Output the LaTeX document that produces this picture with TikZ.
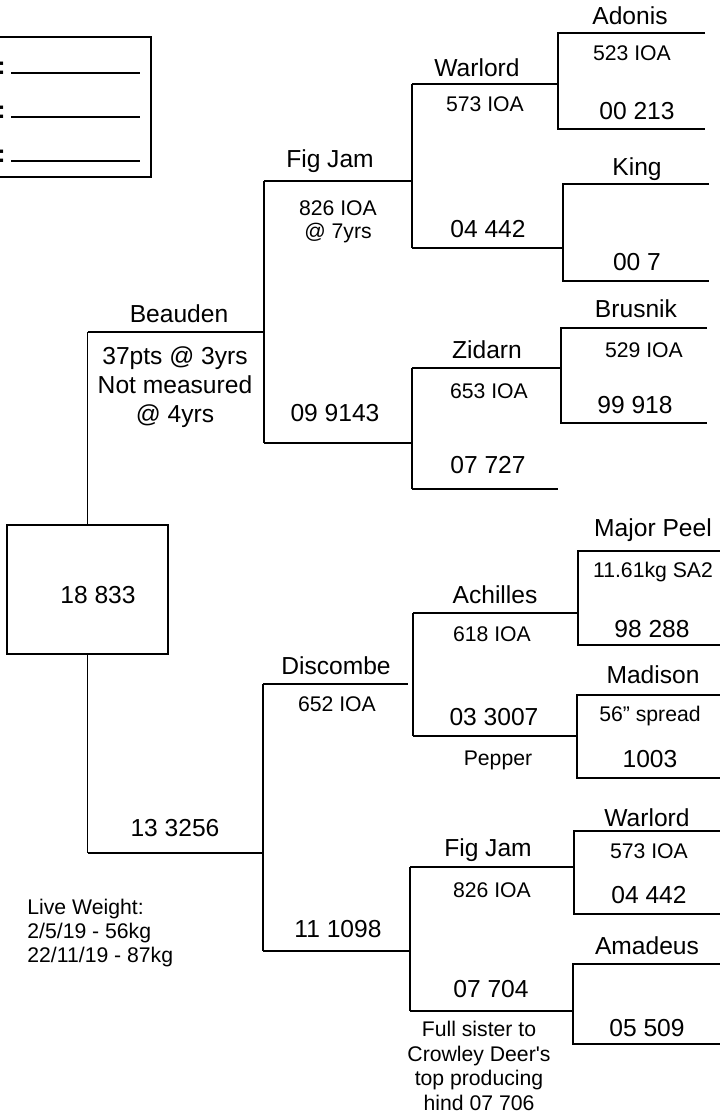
\documentclass[tikz,border=0pt]{standalone}
\usepackage{fontspec}
\setmainfont{Liberation Sans}[Ligatures=TeXOff]
\usetikzlibrary{positioning}

\begin{document}
\begin{tikzpicture}[
    x=0.5pt, y=-0.5pt,
    % Style for the bracket lines of the pedigree
    edge/.style = {line width=0.7pt},
    % Style for the heavy frames (record box and animal box)
    frame/.style = {draw, line width=1.3pt, inner sep=0pt},
    % Style for names and tag numbers (large) and notes (small)
    big/.style = {anchor=base, inner sep=0pt, font=\fontsize{12.3}{14.5}\selectfont},
    small/.style = {anchor=base, inner sep=0pt, font=\fontsize{10.6}{12.2}\selectfont}
]
    \path[fill=white, use as bounding box] (0,0) rectangle (719,1115);

    % --- RECORD BOX (top left) ---
    \node[frame, minimum width=78pt, minimum height=70pt] (form) at (73,107) {};
    \foreach \y/\k in {73/1, 117/2, 161/3} {
        \node[big, anchor=base east, font=\fontsize{12.3}{14.5}\selectfont\bfseries] (colon\k) at (6,\y+1) {:};
        \coordinate (fa\k) at (11,\y);
        \coordinate (fb\k) at (140,\y);
        \draw[line width=0.6pt] (fa\k) -- (fb\k);
    }

    % --- THE ANIMAL ---
    \node[frame, minimum width=80.5pt, minimum height=64.5pt] (root) at (87.5,589.5) {};
    \node[big] (rootid) at (98,603) {18 833};
    % multi-line nodes sit on the baseline of their last line
    \node[small, anchor=base west, align=left, font=\fontsize{10.6}{12}\selectfont] (weight) at (27,962)
        {Live Weight:\\2/5/19 - 56kg\\22/11/19 - 87kg};

    % --- BRACKET CORNERS ---
    % sire side
    \coordinate (sL)    at (87.5,332); \coordinate (sR)    at (264,332);
    \coordinate (ssL)   at (264,181);  \coordinate (ssR)   at (412,181);
    \coordinate (sdL)   at (264,443);  \coordinate (sdR)   at (412,443);
    \coordinate (sssL)  at (412,84);   \coordinate (sssR)  at (558,84);
    \coordinate (ssdL)  at (412,248);  \coordinate (ssdR)  at (563,248);
    \coordinate (sdsL)  at (412,368);  \coordinate (sdsR)  at (561,368);
    \coordinate (sddL)  at (412,489);  \coordinate (sddR)  at (558,489);
    \coordinate (ssssL) at (558,33);   \coordinate (ssssR) at (705,33);
    \coordinate (sssdL) at (558,129);  \coordinate (sssdR) at (705,129);
    \coordinate (ssdsL) at (563,184);  \coordinate (ssdsR) at (709,184);
    \coordinate (ssddL) at (563,281);  \coordinate (ssddR) at (709,281);
    \coordinate (sdssL) at (561,328);  \coordinate (sdssR) at (707,328);
    \coordinate (sdsdL) at (561,423);  \coordinate (sdsdR) at (707,423);
    % dam side
    \coordinate (dL)    at (87.5,853); \coordinate (dR)    at (263,853);
    \coordinate (dsL)   at (263,684);  \coordinate (dsR)   at (408,684);
    \coordinate (ddL)   at (263,951);  \coordinate (ddR)   at (410,951);
    \coordinate (dssL)  at (413,613);  \coordinate (dssR)  at (578,613);
    \coordinate (dsdL)  at (413,736);  \coordinate (dsdR)  at (576,736);
    \coordinate (ddsL)  at (410,867);  \coordinate (ddsR)  at (574,867);
    \coordinate (dddL)  at (410,1011); \coordinate (dddR)  at (573,1011);
    \coordinate (dsssL) at (578,551);  \coordinate (dsssR) at (720,551);
    \coordinate (dssdL) at (578,645);  \coordinate (dssdR) at (720,645);
    \coordinate (dsdsL) at (577,695);  \coordinate (dsdsR) at (720,695);
    \coordinate (dsddL) at (577,778);  \coordinate (dsddR) at (720,778);
    \coordinate (ddssL) at (574,831);  \coordinate (ddssR) at (720,831);
    \coordinate (ddsdL) at (574,914);  \coordinate (ddsdR) at (720,914);
    \coordinate (dddsL) at (573,964);  \coordinate (dddsR) at (720,964);
    \coordinate (ddddL) at (573,1044); \coordinate (ddddR) at (720,1044);

    % --- LINES ---
    \draw[edge] (root.north) -- (sL);
    \draw[edge] (root.south) -- (dL);
    \foreach \a/\b in {sL/sR, ssL/ssR, sdL/sdR, sssL/sssR, ssdL/ssdR, sdsL/sdsR, sddL/sddR,
                       dL/dR, dsL/dsR, ddL/ddR, dssL/dssR, dsdL/dsdR, ddsL/ddsR, dddL/dddR,
                       ssL/sdL, sssL/ssdL, sdsL/sddL, dsL/ddL, dssL/dsdL, ddsL/dddL} {
        \draw[edge] (\a) -- (\b);
    }
    % open boxes for the great-grandparents
    \foreach \a/\b/\c/\d in {ssssR/ssssL/sssdL/sssdR, ssdsR/ssdsL/ssddL/ssddR,
                             sdssR/sdssL/sdsdL/sdsdR, dsssR/dsssL/dssdL/dssdR,
                             dsdsR/dsdsL/dsddL/dsddR, ddssR/ddssL/ddsdL/ddsdR,
                             dddsR/dddsL/ddddL/ddddR} {
        \draw[edge] (\a) -- (\b) -- (\c) -- (\d);
    }

    % --- SIRE SIDE LABELS ---
    \node[big] (beauden) at (179,322) {Beauden};
    \node[big, align=center] (beaudenInfo) at (175,422) {37pts @ 3yrs\\Not measured\\@ 4yrs};
    \node[big] (figjam) at (330,167) {Fig Jam};
    \node[small, align=center, font=\fontsize{10.6}{11.5}\selectfont] (figjamInfo) at (338,238) {826 IOA\\@ 7yrs};
    \node[big] (sdTag) at (335,421) {09 9143};
    \node[big] (warlord) at (477,76) {Warlord};
    \node[small] (warlordInfo) at (485,111) {573 IOA};
    \node[big] (ssdTag) at (488,237) {04 442};
    \node[big] (zidarn) at (487,358) {Zidarn};
    \node[small] (zidarnInfo) at (489,398) {653 IOA};
    \node[big] (sddTag) at (488,473) {07 727};
    \node[big] (adonis) at (630,24) {Adonis};
    \node[small] (adonisInfo) at (632,60) {523 IOA};
    \node[big] (sssdTag) at (637,119) {00 213};
    \node[big] (king) at (637,175) {King};
    \node[big] (ssddTag) at (637,270) {00 7};
    \node[big] (brusnik) at (636,317) {Brusnik};
    \node[small] (brusnikInfo) at (644,357) {529 IOA};
    \node[big] (sdsdTag) at (635,413) {99 918};

    % --- DAM SIDE LABELS ---
    \node[big] (dTag) at (175,836) {13 3256};
    \node[big] (discombe) at (336,674) {Discombe};
    \node[small] (discombeInfo) at (337,711) {652 IOA};
    \node[big] (ddTag) at (338,937) {11 1098};
    \node[big] (achilles) at (495,603) {Achilles};
    \node[small] (achillesInfo) at (492,641) {618 IOA};
    \node[big] (dsdTag) at (494,725) {03 3007};
    \node[small] (pepper) at (498,765) {Pepper};
    \node[big] (figjamB) at (488,856) {Fig Jam};
    \node[small] (figjamBInfo) at (492,897) {826 IOA};
    \node[big] (dddTag) at (491,997) {07 704};
    \node[small, align=center] (dddNote) at (479,1110)
        {Full sister to\\Crowley Deer's\\top producing\\hind 07 706};
    \node[big] (majorpeel) at (653,536) {Major Peel};
    \node[small] (majorpeelInfo) at (653,577) {11.61kg SA2};
    \node[big] (dssdTag) at (652,637) {98 288};
    \node[big] (madison) at (653,683) {Madison};
    \node[small] (madisonInfo) at (650,721) {56” spread};
    \node[big] (dsddTag) at (650,767) {1003};
    \node[big] (warlordB) at (647,826) {Warlord};
    \node[small] (warlordBInfo) at (649,858) {573 IOA};
    \node[big] (ddsdTag) at (649,903) {04 442};
    \node[big] (amadeus) at (647,954) {Amadeus};
    \node[big] (ddddTag) at (647,1036) {05 509};

\end{tikzpicture}
\end{document}
